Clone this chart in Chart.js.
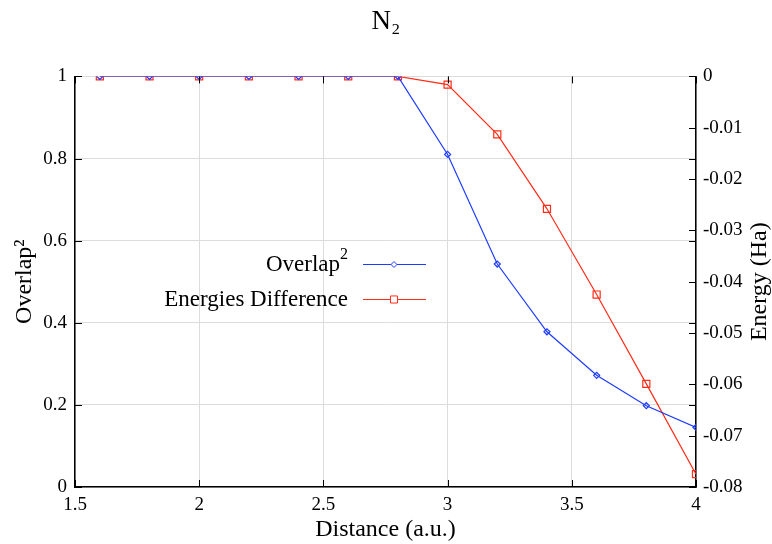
<!DOCTYPE html>
<html>
<head>
<meta charset="utf-8">
<script src="https://cdn.jsdelivr.net/npm/chart.js@4.4.0/dist/chart.umd.min.js"></script>
<style>
  body { margin: 0; background: #fff; }
  #wrap { width: 772px; height: 544px; }
</style>
</head>
<body>
<div id="wrap"><canvas id="chart-area" width="772" height="544"></canvas></div>
<script>
// data
var distance = [1.6, 1.8, 2.0, 2.2, 2.4, 2.6, 2.8, 3.0, 3.2, 3.4, 3.6, 3.8, 4.0];
var overlap2 = [1, 1, 1, 1, 1, 1, 1, 0.81, 0.543, 0.378, 0.272, 0.198, 0.145];
var energyDiff = [0, 0, 0, 0, 0, 0, 0, -0.0016, -0.0113, -0.0258, -0.0425, -0.0599, -0.0775];

var blue = 'rgb(30,60,255)';
var red = 'rgb(255,45,25)';
var serif = "'Liberation Serif', 'DejaVu Serif', serif";

function pts(xs, ys) {
    var out = [];
    for (var i = 0; i < xs.length; i++) {
        out.push({x: xs[i], y: ys[i]});
    }
    return out;
}

// plain number labels, like 1 / 2 / 0.8 (no trailing .0)
function plainTick(value) {
    return String(Math.round(value * 1000) / 1000);
}

// inward ticks, right axis title, legend inside the plot (gnuplot look)
var gnuplotBits = {
    id: 'gnuplotBits',
    afterDatasetsDraw: function (chart) {
        var ctx = chart.ctx;
        var a = chart.chartArea;
        var sx = chart.scales.x, sy = chart.scales.y, sy2 = chart.scales.y2;
        ctx.save();
        ctx.strokeStyle = '#000';
        ctx.lineWidth = 1;
        sx.ticks.forEach(function (t) {
            var px = Math.round(sx.getPixelForValue(t.value)) + 0.5;
            ctx.beginPath();
            ctx.moveTo(px, a.bottom); ctx.lineTo(px, a.bottom - 7);
            ctx.moveTo(px, a.top); ctx.lineTo(px, a.top + 7);
            ctx.stroke();
        });
        sy.ticks.forEach(function (t) {
            var py = Math.round(sy.getPixelForValue(t.value)) + 0.5;
            ctx.beginPath();
            ctx.moveTo(a.left, py); ctx.lineTo(a.left + 7, py);
            ctx.moveTo(a.right, py); ctx.lineTo(a.right - 7, py);
            ctx.stroke();
        });
        sy2.ticks.forEach(function (t) {
            var py = Math.round(sy2.getPixelForValue(t.value)) + 0.5;
            ctx.beginPath();
            ctx.moveTo(a.right, py); ctx.lineTo(a.right - 7, py);
            ctx.stroke();
        });

        // right axis title, reading bottom to top
        ctx.save();
        ctx.translate(760, (a.top + a.bottom) / 2);
        ctx.rotate(-Math.PI / 2);
        ctx.fillStyle = '#000';
        ctx.font = '24px ' + serif;
        ctx.textAlign = 'center';
        ctx.textBaseline = 'middle';
        ctx.fillText('Energy (Ha)', 0, 0);
        ctx.restore();

        // legend
        var items = [
            {label: 'Overlap', sup: '2', ds: chart.data.datasets[0], y: 264},
            {label: 'Energies Difference', sup: '', ds: chart.data.datasets[1], y: 299}
        ];
        ctx.textBaseline = 'middle';
        items.forEach(function (it) {
            var textRight = 348;
            ctx.fillStyle = '#000';
            ctx.textAlign = 'right';
            var supW = 0;
            if (it.sup) {
                ctx.font = '16px ' + serif;
                supW = ctx.measureText(it.sup).width;
                ctx.fillText(it.sup, textRight, it.y - 9);
            }
            ctx.font = '23px ' + serif;
            ctx.fillText(it.label, textRight - supW, it.y + 1);
            ctx.strokeStyle = it.ds.borderColor;
            ctx.lineWidth = 1.2;
            ctx.beginPath();
            ctx.moveTo(363, it.y + 0.5); ctx.lineTo(426, it.y + 0.5);
            ctx.stroke();
            ctx.fillStyle = '#fff';
            ctx.strokeStyle = it.ds.pointBorderColor;
            ctx.lineWidth = 1;
            Chart.helpers.drawPoint(ctx, {
                pointStyle: it.ds.pointStyle,
                radius: it.ds.pointRadius,
                borderWidth: 1
            }, 394, it.y + 0.5);
        });
        ctx.restore();
    }
};

window.onload = function () {
    var ctx = document.getElementById("chart-area").getContext("2d");
    var tickFont = { family: serif, size: 19 };
    var config = {
        type: 'line',
        data: {
            datasets: [{
                label: 'Overlap²',
                data: pts(distance, overlap2),
                borderColor: blue,
                backgroundColor: 'rgba(0,0,0,0)',
                pointBackgroundColor: 'rgba(0,0,0,0)',
                pointBorderColor: blue,
                pointStyle: 'rectRot',
                pointRadius: 3,
                borderWidth: 1.2,
                tension: 0,
                yAxisID: 'y'
            }, {
                label: 'Energies Difference',
                data: pts(distance, energyDiff),
                borderColor: red,
                backgroundColor: 'rgba(0,0,0,0)',
                pointBackgroundColor: 'rgba(0,0,0,0)',
                pointBorderColor: red,
                pointStyle: 'rect',
                pointRadius: 5,
                borderWidth: 1.2,
                tension: 0,
                yAxisID: 'y2'
            }]
        },
        options: {
            responsive: false,
            animation: false,
            layout: { padding: 0 },
            plugins: {
                legend: { display: false },
                tooltip: { enabled: false },
                title: {
                    display: true,
                    text: 'N₂',
                    color: '#000',
                    font: { family: serif, size: 27, weight: 'normal' },
                    padding: { top: 6, bottom: 38 }
                }
            },
            scales: {
                x: {
                    type: 'linear',
                    min: 1.5, max: 4,
                    ticks: { stepSize: 0.5, color: '#000', font: tickFont, padding: 7, callback: plainTick },
                    grid: { color: '#dcdcdc', drawTicks: false },
                    border: { color: '#000', width: 1.5 },
                    title: { display: true, text: 'Distance (a.u.)', color: '#000', font: { family: serif, size: 24 }, padding: 0 },
                    afterFit: function (s) { s.height = 57; }
                },
                y: {
                    position: 'left',
                    min: 0, max: 1,
                    ticks: { stepSize: 0.2, color: '#000', font: tickFont, padding: 8, callback: plainTick },
                    grid: { color: '#dcdcdc', drawTicks: false },
                    border: { color: '#000', width: 1.5 },
                    title: { display: true, text: 'Overlap²', color: '#000', font: { family: serif, size: 24 }, padding: { top: 10 } },
                    afterFit: function (s) { s.width = 75; }
                },
                y2: {
                    position: 'right',
                    min: -0.08, max: 0,
                    ticks: { stepSize: 0.01, color: '#000', font: tickFont, padding: 7, callback: plainTick },
                    grid: { drawOnChartArea: false, drawTicks: false },
                    border: { color: '#000', width: 1.5 },
                    afterFit: function (s) { s.width = 76; }
                }
            }
        },
        plugins: [gnuplotBits]
    };
    window.myChart = new Chart(ctx, config);
};
</script>
</body>
</html>
